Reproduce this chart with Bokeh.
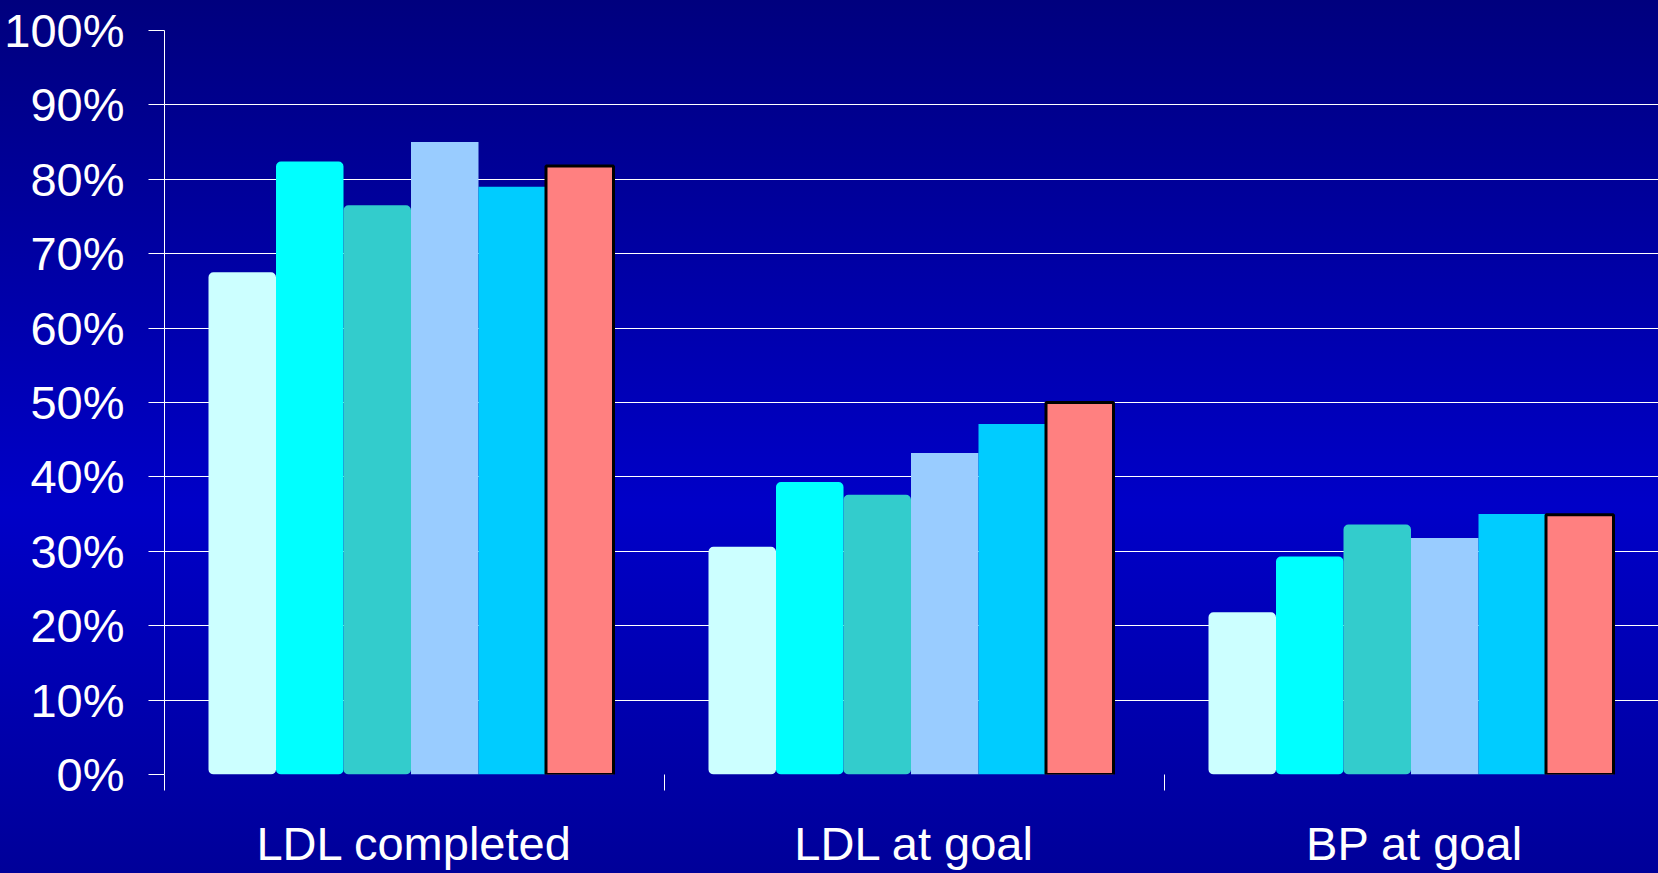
import numpy as np
from bokeh.plotting import figure
from bokeh.models import Range1d, FixedTicker, PrintfTickFormatter
from bokeh.embed import file_html
from bokeh.resources import INLINE

# Share of patients (%) in each of six groups, per measure
categories = ["LDL completed", "LDL at goal", "BP at goal"]
group_1 = [67.5, 30.6, 21.8]
group_2 = [82.4, 39.3, 29.3]
group_3 = [76.5, 37.6, 33.6]
group_4 = [85.0, 43.2, 31.8]
group_5 = [79.0, 47.1, 35.0]
group_6 = [81.8, 50.0, 34.9]
y_ticks = [0, 10, 20, 30, 40, 50, 60, 70, 80, 90, 100]

series = [group_1, group_2, group_3, group_4, group_5, group_6]
colors = ["#CCFFFF", "#00FFFF", "#33CCCC", "#99CCFF", "#00CCFF", "#FF8080"]

FONT = "Liberation Sans"
W, H = 1658, 873
LEFT, TOP, BOTTOM = 164, 30, 99
CAT_PX = 500  # pixels per category slot
frame_w = W - LEFT

p = figure(width=W, height=H, output_backend="svg", toolbar_location=None,
           x_range=Range1d(0, frame_w / CAT_PX), y_range=Range1d(0, 100),
           min_border_left=LEFT, min_border_top=TOP, min_border_bottom=BOTTOM,
           min_border_right=0)
p.background_fill_alpha = 0
p.border_fill_alpha = 0
p.outline_line_color = None
p.styles = {"background": "linear-gradient(to bottom, #00007E 0%, #0000C8 58%, #000099 100%)"}

# bars: six per category, drawn left to right so each overlaps the previous one
step = 0.135
start = 0.088
base = np.arange(len(categories))
for i, (vals, col) in enumerate(zip(series, colors)):
    xs = base + start + step * (i + 0.5)
    kw = dict(x=xs, top=vals, bottom=0, width=step, fill_color=col)
    if i == 5:
        p.vbar(line_color="black", line_width=3, **kw)
    elif i < 3:
        p.vbar(line_color=None, border_radius=5, **kw)
    else:
        p.vbar(line_color=None, **kw)

# y axis
yt = FixedTicker(ticks=y_ticks)
p.yaxis.ticker = yt
p.yaxis.formatter = PrintfTickFormatter(format="%d%%")
p.yaxis.axis_line_color = "white"
p.yaxis.axis_line_width = 1
p.yaxis.major_tick_line_color = "white"
p.yaxis.major_tick_out = 16
p.yaxis.major_tick_in = 0
p.yaxis.minor_tick_line_color = None
p.yaxis.major_label_standoff = 24
p.yaxis.major_label_text_color = "white"
p.yaxis.major_label_text_font = FONT
p.yaxis.major_label_text_font_size = "47px"

p.ygrid.ticker = yt
p.ygrid.grid_line_color = "white"
p.ygrid.grid_line_width = 1
p.xgrid.visible = False

# x axis: labels at category centres, tick marks at category boundaries
centres = [k + 0.5 for k in range(len(categories))]
bounds = [float(k) for k in range(len(categories) + 1)]
p.xaxis.ticker = FixedTicker(ticks=centres, minor_ticks=bounds)
p.xaxis.major_label_overrides = {c: name for c, name in zip(centres, categories)}
p.xaxis.axis_line_color = None
p.xaxis.major_tick_line_color = None
p.xaxis.major_tick_out = 0
p.xaxis.major_tick_in = 0
p.xaxis.minor_tick_line_color = "white"
p.xaxis.minor_tick_out = 16
p.xaxis.minor_tick_in = 0
p.xaxis.major_label_standoff = 26
p.xaxis.major_label_text_color = "white"
p.xaxis.major_label_text_font = FONT
p.xaxis.major_label_text_font_size = "47px"

open("out.html", "w").write(file_html(p, INLINE))
